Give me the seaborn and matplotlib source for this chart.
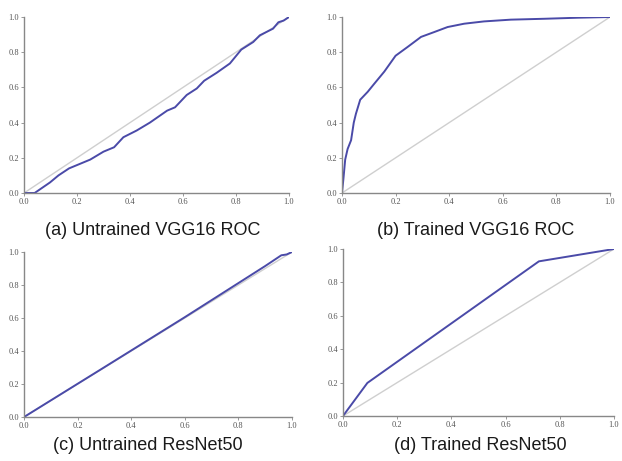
import numpy as np
import pandas as pd
import seaborn as sns
import matplotlib.pyplot as plt

# ROC curves (FPR, TPR)
vgg_untrained_fpr = [0.0, 0.04, 0.098, 0.13, 0.17, 0.25, 0.30, 0.34, 0.375, 0.425, 0.475, 0.54, 0.57,
                     0.614, 0.652, 0.68, 0.727, 0.777, 0.82, 0.865, 0.89, 0.94, 0.96, 0.98, 1.0]
vgg_untrained_tpr = [0.0, 0.0, 0.06, 0.10, 0.14, 0.19, 0.235, 0.26, 0.317, 0.355, 0.40, 0.468, 0.487,
                     0.557, 0.594, 0.638, 0.683, 0.736, 0.815, 0.858, 0.896, 0.934, 0.97, 0.98, 1.0]

vgg_trained_fpr = [0.0, 0.005, 0.012, 0.021, 0.034, 0.044, 0.052, 0.068, 0.096, 0.12, 0.158, 0.2,
                   0.245, 0.295, 0.345, 0.394, 0.456, 0.53, 0.63, 0.755, 0.88, 1.0]
vgg_trained_tpr = [0.0, 0.075, 0.19, 0.25, 0.30, 0.40, 0.45, 0.53, 0.575, 0.62, 0.69, 0.78,
                   0.83, 0.887, 0.915, 0.943, 0.962, 0.975, 0.985, 0.99, 0.996, 1.0]

resnet_untrained_fpr = [0.0, 0.3, 0.6, 0.9, 0.96, 0.98, 1.0]
resnet_untrained_tpr = [0.0, 0.302, 0.605, 0.915, 0.98, 0.985, 1.0]

resnet_trained_fpr = [0.0, 0.09, 0.723, 1.0]
resnet_trained_tpr = [0.0, 0.198, 0.926, 1.0]

titles = ["(a) Untrained VGG16 ROC", "(b) Trained VGG16 ROC",
          "(c) Untrained ResNet50", "(d) Trained ResNet50"]
ticks = [0.0, 0.2, 0.4, 0.6, 0.8, 1.0]

curves = [(vgg_untrained_fpr, vgg_untrained_tpr),
          (vgg_trained_fpr, vgg_trained_tpr),
          (resnet_untrained_fpr, resnet_untrained_tpr),
          (resnet_trained_fpr, resnet_trained_tpr)]

sns.set_theme(style="white")

fig = plt.figure(figsize=(6.22, 4.61), dpi=100)
# axes boxes in figure fractions
boxes = [[0.0386, 0.5813, 0.426, 0.3818],
         [0.5498, 0.5813, 0.4309, 0.3818],
         [0.0386, 0.0954, 0.4309, 0.358],
         [0.5514, 0.0976, 0.4357, 0.3623]]
title_pos = [(0.245, 0.50), (0.764, 0.50), (0.237, 0.033), (0.773, 0.033)]

line_color = "#4a4aa8"
for (fpr, tpr), box, title, tp in zip(curves, boxes, titles, title_pos):
    ax = fig.add_axes(box)
    diag = pd.DataFrame({"x": [0.0, 1.0], "y": [0.0, 1.0]})
    sns.lineplot(x="x", y="y", data=diag, ax=ax, color="#cfcfcf", linewidth=1.0)
    df = pd.DataFrame({"x": fpr, "y": tpr})
    sns.lineplot(x="x", y="y", data=df, ax=ax, color=line_color, linewidth=1.4,
                 sort=False, estimator=None)
    ax.set_xlim(0, 1)
    ax.set_ylim(0, 1)
    ax.set_xticks(ticks)
    ax.set_yticks(ticks)
    ax.set_xticklabels([f"{t:.1f}" for t in ticks], family="Liberation Serif", fontsize=6, color="#555555")
    ax.set_yticklabels([f"{t:.1f}" for t in ticks], family="Liberation Serif", fontsize=6, color="#555555")
    ax.tick_params(axis="both", length=2, width=0.6, color="#888888", pad=1.5,
                   bottom=True, left=True)
    ax.set_xlabel("")
    ax.set_ylabel("")
    for side in ["top", "right"]:
        ax.spines[side].set_visible(False)
    for side in ["left", "bottom"]:
        ax.spines[side].set_color("#888888")
        ax.spines[side].set_linewidth(1.0)
    fig.text(tp[0], tp[1], title, ha="center", va="center", fontsize=13,
             family="Liberation Sans", color="#1a1a1a")

plt.savefig("out.png", dpi=100)
